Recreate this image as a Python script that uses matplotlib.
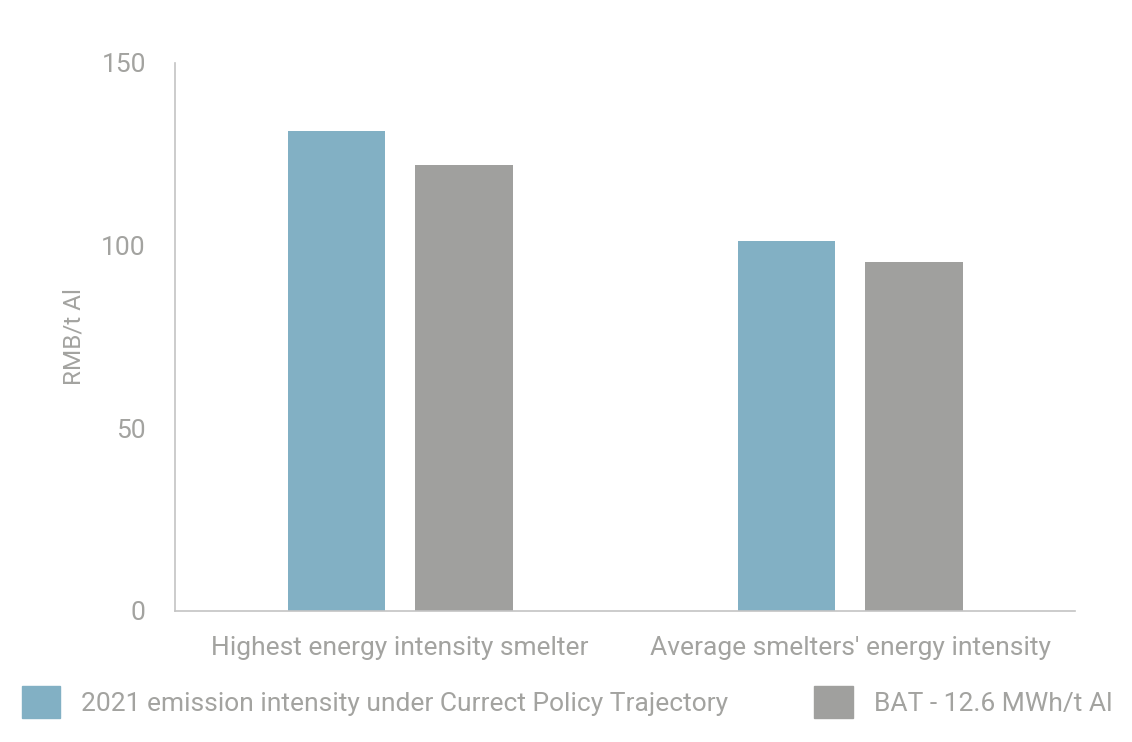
import matplotlib.pyplot as plt
import numpy as np
from matplotlib.patches import Patch

categories = ['Highest energy intensity smelter', "Average smelters' energy intensity"]
current_policy = [131.5, 101.4]
bat = [122.2, 95.6]
series_labels = ['2021 emission intensity under Currect Policy Trajectory', 'BAT - 12.6 MWh/t Al']
yticks = [0, 50, 100, 150]

blue = '#82b0c4'
grey = '#a0a09e'
text_col = '#a3a3a0'

plt.rcParams['font.family'] = ['Liberation Sans Narrow', 'Roboto', 'DejaVu Sans']

fig = plt.figure(figsize=(11.32, 7.42), dpi=100)
ax = fig.add_axes([175 / 1132, 1 - 611 / 742, 900 / 1132, 548 / 742])

x = np.arange(len(categories))
w = 0.216
off = 0.142
ax.bar(x - off, current_policy, width=w, color=blue)
ax.bar(x + off, bat, width=w, color=grey)

ax.set_xlim(-0.5, 1.5)
ax.set_ylim(0, 150)
ax.set_yticks(yticks)
ax.set_xticks(x)
ax.set_xticklabels(categories)
ax.tick_params(axis='both', length=0, labelsize=19, colors=text_col)
ax.tick_params(axis='y', pad=21)
ax.tick_params(axis='x', pad=18)
ax.set_ylabel('RMB/t Al', fontsize=17.5, color=text_col, labelpad=11)

for s in ['top', 'right']:
    ax.spines[s].set_visible(False)
for s in ['left', 'bottom']:
    ax.spines[s].set_color('#c4c4c4')
    ax.spines[s].set_linewidth(1.2)

handles = [Patch(color=blue), Patch(color=grey)]
fig.legend(handles, series_labels, loc='center left',
           bbox_to_anchor=(22 / 1132, 1 - 702 / 742), ncol=2, frameon=False,
           fontsize=19, labelcolor=text_col, handlelength=1.45, handleheight=1.45,
           handletextpad=0.8, columnspacing=3.25, borderpad=0, borderaxespad=0)

fig.savefig('out.png', dpi=100)
